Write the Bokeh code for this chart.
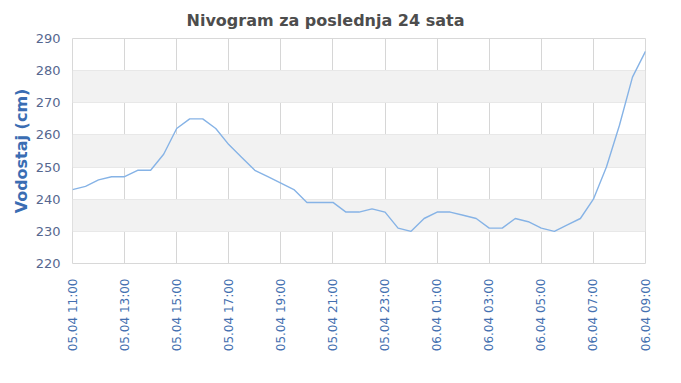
import math
from bokeh.plotting import figure
from bokeh.models import Range1d, FixedTicker, Title
from bokeh.embed import file_html
from bokeh.resources import INLINE

# hours since 05.04 11:00, every 30 minutes
hours = [i * 0.5 for i in range(45)]
levels = [243, 244, 246, 247, 247, 249, 249, 254, 262, 265, 265, 262, 257, 253, 249, 247,
          245, 243, 239, 239, 239, 236, 236, 237, 236, 231, 230, 234, 236, 236, 235, 234,
          231, 231, 234, 233, 231, 230, 232, 234, 240, 250, 263, 278, 286]
tick_hours = [0, 2, 4, 6, 8, 10, 12, 14, 16, 18, 20, 22]
tick_labels = ["05.04 11:00", "05.04 13:00", "05.04 15:00", "05.04 17:00", "05.04 19:00",
               "05.04 21:00", "05.04 23:00", "06.04 01:00", "06.04 03:00", "06.04 05:00",
               "06.04 07:00", "06.04 09:00"]
y_ticks = [220, 230, 240, 250, 260, 270, 280, 290]

p = figure(width=665, height=360, output_backend="svg", toolbar_location=None,
           x_range=Range1d(0, 22), y_range=Range1d(220, 290),
           frame_width=573, frame_height=225,
           min_border_left=72, min_border_right=20, min_border_top=38, min_border_bottom=20)
p.background_fill_color = "white"
p.border_fill_color = "white"
p.outline_line_color = "#d8d8d8"

p.title = Title(text="Nivogram za poslednja 24 sata", align="left", offset=114,
                standoff=17,
                text_font="DejaVu Sans", text_font_size="16px", text_font_style="bold",
                text_color="#4d4d4d")

p.line(hours, levels, line_color="#86b3e6", line_width=1.4)

p.xaxis.ticker = FixedTicker(ticks=tick_hours)
p.xaxis.major_label_overrides = {h: l for h, l in zip(tick_hours, tick_labels)}
p.xaxis.major_label_orientation = math.pi / 2
p.xaxis.major_label_text_font = "DejaVu Sans"
p.xaxis.major_label_text_font_size = "12px"
p.xaxis.major_label_text_color = "#4470b0"
p.xaxis.major_label_standoff = 9
p.xaxis.axis_line_color = None
p.xaxis.major_tick_line_color = None
p.xaxis.minor_tick_line_color = None

p.yaxis.ticker = FixedTicker(ticks=y_ticks)
p.yaxis.major_label_text_font = "DejaVu Sans"
p.yaxis.major_label_text_font_size = "13px"
p.yaxis.major_label_text_color = "#56678f"
p.yaxis.major_label_standoff = 6
p.yaxis.axis_line_color = None
p.yaxis.major_tick_line_color = None
p.yaxis.minor_tick_line_color = None
p.yaxis.axis_label = "Vodostaj (cm)"
p.yaxis.axis_label_text_font = "DejaVu Sans"
p.yaxis.axis_label_text_font_size = "16px"
p.yaxis.axis_label_text_font_style = "bold"
p.yaxis.axis_label_text_color = "#3a6db3"
p.yaxis.axis_label_standoff = 2

p.xgrid.grid_line_color = "#d6d6d6"
p.ygrid.grid_line_color = "#e8e8e8"
p.ygrid.band_fill_color = "#f2f2f2"
p.ygrid.band_fill_alpha = 1.0

open("out.html", "w").write(file_html(p, INLINE))
